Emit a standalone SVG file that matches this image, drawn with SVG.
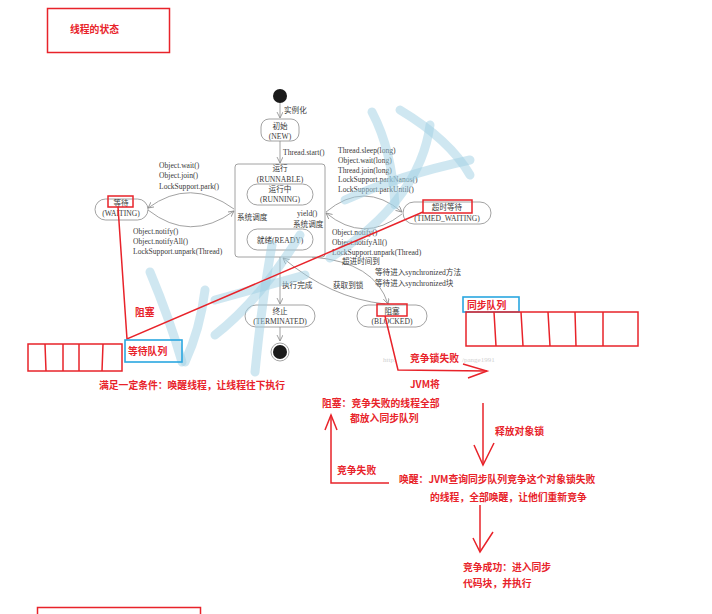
<svg xmlns="http://www.w3.org/2000/svg" width="712" height="614" viewBox="0 0 712 614">
<style>
.g{fill:none;stroke:#8a8a8a;stroke-width:0.8}
.p{fill:#fff;stroke:#8a8a8a;stroke-width:0.8}
.t{font-family:"Liberation Serif","Noto Sans CJK SC",serif;font-size:7.6px;fill:#3a3a3a}
.c{text-anchor:middle}
.r{font-family:"Noto Sans CJK SC","Liberation Sans",sans-serif;font-size:9.8px;font-weight:bold;fill:#e8232a}
.rl{fill:none;stroke:#e8232a;stroke-width:1.5}
.bl{fill:none;stroke:#2aa7e0;stroke-width:1.6}
.wm{fill:none;stroke:#9fd0e3;stroke-width:9;stroke-linecap:round;opacity:.5}
.wt{font-family:"Liberation Serif",serif;font-size:7px;fill:#d0d0d0}
</style>
<defs>
<marker id="a" markerWidth="7" markerHeight="7" refX="6" refY="3" orient="auto" markerUnits="userSpaceOnUse">
<path d="M0,0 L6,3 L0,6" fill="none" stroke="#8a8a8a" stroke-width="0.8"/>
</marker>
</defs>
<rect width="712" height="614" fill="#fff"/>

<g id="title">
<rect x="47.5" y="8.5" width="122" height="44" class="rl"/>
<text x="70" y="33" class="r">线程的状态</text>
</g>

<g id="connectors">
<path d="M280,103 V118" class="g" marker-end="url(#a)"/>
<path d="M280,141 V163" class="g" marker-end="url(#a)"/>
<path d="M280,257 V304" class="g" marker-end="url(#a)"/>
<path d="M280,327 V341" class="g" marker-end="url(#a)"/>
<path d="M234,209 Q190,177 148,208" class="g" marker-end="url(#a)"/>
<path d="M148,210 Q190,243 234,211" class="g" marker-end="url(#a)"/>
<path d="M326,212 Q364,180 402,212" class="g" marker-end="url(#a)"/>
<path d="M402,214 Q364,244 326,213" class="g" marker-end="url(#a)"/>
<path d="M277,206 Q266,217 277,227" class="g" marker-end="url(#a)"/>
<path d="M284,228 Q295,217 284,207" class="g" marker-end="url(#a)"/>
<path d="M312,257 Q375,262 388,304" class="g" marker-end="url(#a)"/>
<path d="M385,304 Q330,298 283,258" class="g" marker-end="url(#a)"/>
</g>

<g id="start"><circle cx="280" cy="96" r="7" fill="#1a1a1a"/></g>
<g id="new">
<rect x="261" y="119" width="38" height="22" rx="8" class="p"/>
<text x="280" y="129" class="t c">初始</text>
<text x="280" y="139" class="t c">(NEW)</text>
</g>
<g id="runnable">
<rect x="235" y="164" width="90" height="93" rx="3" class="p"/>
<text x="280" y="171" class="t c">运行</text>
<text x="280" y="182" class="t c">(RUNNABLE)</text>
</g>
<g id="running">
<rect x="247" y="184" width="66" height="21" rx="10.5" class="p"/>
<text x="280" y="192" class="t c">运行中</text>
<text x="280" y="202" class="t c">(RUNNING)</text>
</g>
<g id="ready">
<rect x="247" y="229" width="66" height="21" rx="10.5" class="p"/>
<text x="280" y="243" class="t c">就绪(READY)</text>
</g>
<g id="waiting">
<rect x="95" y="199" width="53" height="21" rx="10.5" class="p"/>
<text x="121" y="206" class="t c">等待</text>
<text x="121" y="216" class="t c">(WAITING)</text>
</g>
<g id="timed">
<rect x="403" y="202" width="88" height="22" rx="11" class="p"/>
<text x="447" y="210" class="t c">超时等待</text>
<text x="447" y="221" class="t c">(TIMED_WAITING)</text>
</g>
<g id="terminated">
<rect x="245" y="305" width="70" height="22" rx="11" class="p"/>
<text x="280" y="314" class="t c">终止</text>
<text x="280" y="324" class="t c">(TERMINATED)</text>
</g>
<g id="blocked">
<rect x="357" y="305" width="70" height="22" rx="11" class="p"/>
<text x="392" y="314" class="t c">阻塞</text>
<text x="392" y="324" class="t c">(BLOCKED)</text>
</g>
<g id="end">
<circle cx="280" cy="352" r="9" fill="#fff" stroke="#8a8a8a" stroke-width="0.8"/>
<circle cx="280" cy="352" r="7" fill="#1a1a1a"/>
</g>

<g id="labels">
<text x="284" y="113" class="t">实例化</text>
<text x="283" y="155" class="t">Thread.start()</text>
<text x="237" y="220" class="t">系统调度</text>
<text x="297" y="216" class="t">yield()</text>
<text x="293" y="227" class="t">系统调度</text>
<text x="159" y="168" class="t">Object.wait()</text>
<text x="159" y="178" class="t">Object.join()</text>
<text x="159" y="189" class="t">LockSupport.park()</text>
<text x="133" y="234" class="t">Object.notify()</text>
<text x="133" y="244" class="t">Object.notifyAll()</text>
<text x="133" y="254" class="t">LockSupport.unpark(Thread)</text>
<text x="338" y="153" class="t">Thread.sleep(long)</text>
<text x="338" y="163" class="t">Object.wait(long)</text>
<text x="338" y="173" class="t">Thread.join(long)</text>
<text x="338" y="182" class="t">LockSupport.parkNanos()</text>
<text x="338" y="192" class="t">LockSupport.parkUntil()</text>
<text x="332" y="235" class="t">Object.notify()</text>
<text x="332" y="245" class="t">Object.notifyAll()</text>
<text x="332" y="255" class="t">LockSupport.unpark(Thread)</text>
<text x="342" y="264" class="t">超进时间到</text>
<text x="375" y="275" class="t">等待进入synchronized方法</text>
<text x="375" y="286" class="t">等待进入synchronized块</text>
<text x="282" y="288" class="t">执行完成</text>
<text x="333" y="288" class="t">获取到锁</text>
<text x="383" y="362" class="wt">http:</text>
<text x="462" y="362" class="wt">/pange1991</text>
</g>

<g id="watermark">
<path d="M372,112 Q392,150 395,205" class="wm"/>
<path d="M430,125 Q420,200 330,258" class="wm"/>
<path d="M345,200 Q400,175 470,160" class="wm"/>
<path d="M400,110 Q450,140 470,175" class="wm"/>
<path d="M272,245 Q262,300 255,372" class="wm"/>
<path d="M215,300 L305,275" class="wm"/>
<path d="M300,235 Q260,300 215,335" class="wm"/>
<path d="M150,272 Q170,320 182,362" class="wm"/>
<path d="M205,290 Q200,330 185,362" class="wm"/>
</g>

<g id="annotations">
<rect x="108" y="196" width="25" height="11" class="rl"/>
<rect x="423" y="200" width="49" height="13" class="rl"/>
<rect x="377" y="304" width="30" height="12" class="rl"/>
<polyline points="118,207 127,339 423,212" class="rl"/>
<text x="135" y="316" class="r">阻塞</text>
<g id="wait-queue">
<rect x="28" y="344" width="94" height="27" class="rl"/>
<path d="M45,344 L46,371 M63,344 L63,371 M79,344 L79,371 M103,344 L102,371" class="rl"/>
</g>
<rect x="125" y="340" width="57" height="22" class="bl"/>
<text x="128" y="355" class="r">等待队列</text>
<text x="99" y="389" class="r">满足一定条件：唤醒线程，让线程往下执行</text>
<g id="sync-queue">
<rect x="463" y="297" width="56" height="15" class="bl"/>
<text x="467" y="309" class="r">同步队列</text>
<rect x="466" y="312" width="172" height="34" class="rl"/>
<path d="M494,312 L496,346 M521,312 L523,346 M548,312 L550,346 M575,312 L576,346 M603,312 L603,346" class="rl"/>
</g>
<polyline points="385,316 398,370 487,371" class="rl"/>
<polyline points="463,364 487,371 468,378" class="rl"/>
<text x="410" y="362" class="r">竞争锁失败</text>
<text x="410" y="388" class="r">JVM将</text>
<text x="322" y="407" class="r">阻塞：竞争失败的线程全部</text>
<text x="350" y="422" class="r">都放入同步队列</text>
<polyline points="389,483 331,483 331,415" class="rl"/>
<polyline points="325,430 331,415 337,430" class="rl"/>
<text x="337" y="474" class="r">竞争失败</text>
<path d="M483,403 V465" class="rl"/>
<polyline points="474,445 483,465 494,443" class="rl"/>
<text x="495" y="435" class="r">释放对象锁</text>
<text x="399" y="483" class="r">唤醒：JVM查询同步队列竞争这个对象锁失败</text>
<text x="430" y="501" class="r">的线程，全部唤醒，让他们重新竞争</text>
<path d="M480,505 V552" class="rl"/>
<polyline points="473,538 480,552 493,532" class="rl"/>
<text x="463" y="571" class="r">竞争成功：进入同步</text>
<text x="463" y="587" class="r">代码块，并执行</text>
<rect x="37.5" y="607.5" width="163" height="20" class="rl"/>
</g>
</svg>
